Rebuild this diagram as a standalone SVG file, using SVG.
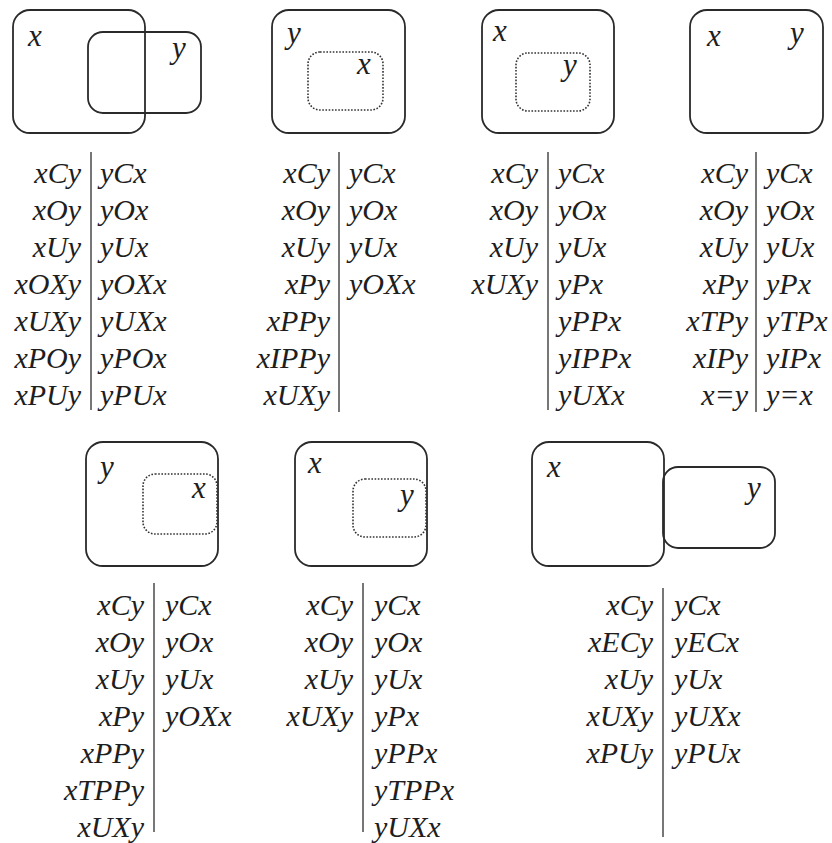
<svg xmlns="http://www.w3.org/2000/svg" width="832" height="843" viewBox="0 0 832 843">
<style>
.box{fill:none;stroke:#2a2a2a;stroke-width:1.8}
.dot{fill:none;stroke:#333;stroke-width:1.6;stroke-dasharray:1.6 1.6}
.lbl{font-family:"Liberation Serif","Times New Roman",serif;font-style:italic;font-size:31px;fill:#1e1e1e}
.t{font-family:"Liberation Serif","Times New Roman",serif;font-style:italic;font-size:30px;fill:#1e1e1e}
.l{text-anchor:end}
.div{stroke:#777;stroke-width:2}
</style>
<rect width="832" height="843" fill="#fff"/>
<g id="p1">
<rect class="box" x="13" y="10" width="132" height="123" rx="17"/>
<rect class="box" x="88" y="32" width="113" height="81" rx="15"/>
<text class="lbl" x="28" y="46">x</text>
<text class="lbl" x="172" y="58">y</text>
<line class="div" x1="91" y1="152" x2="91" y2="410"/>
<text class="t l"><tspan x="81" y="183">xCy</tspan><tspan x="81" y="220">xOy</tspan><tspan x="81" y="257">xUy</tspan><tspan x="81" y="294">xOXy</tspan><tspan x="81" y="331">xUXy</tspan><tspan x="81" y="368">xPOy</tspan><tspan x="81" y="405">xPUy</tspan></text>
<text class="t"><tspan x="100" y="183">yCx</tspan><tspan x="100" y="220">yOx</tspan><tspan x="100" y="257">yUx</tspan><tspan x="100" y="294">yOXx</tspan><tspan x="100" y="331">yUXx</tspan><tspan x="100" y="368">yPOx</tspan><tspan x="100" y="405">yPUx</tspan></text>
</g>
<g id="p2">
<rect class="box" x="272" y="10" width="133" height="123" rx="17"/>
<rect class="dot" x="308" y="52" width="75" height="58" rx="12"/>
<text class="lbl" x="287" y="43">y</text>
<text class="lbl" x="357" y="74">x</text>
<line class="div" x1="339" y1="152" x2="339" y2="412"/>
<text class="t l"><tspan x="330" y="183">xCy</tspan><tspan x="330" y="220">xOy</tspan><tspan x="330" y="257">xUy</tspan><tspan x="330" y="294">xPy</tspan><tspan x="330" y="331">xPPy</tspan><tspan x="330" y="368">xIPPy</tspan><tspan x="330" y="405">xUXy</tspan></text>
<text class="t"><tspan x="349" y="183">yCx</tspan><tspan x="349" y="220">yOx</tspan><tspan x="349" y="257">yUx</tspan><tspan x="349" y="294">yOXx</tspan></text>
</g>
<g id="p3">
<rect class="box" x="482" y="10" width="132" height="123" rx="17"/>
<rect class="dot" x="516" y="53" width="74" height="58" rx="12"/>
<text class="lbl" x="493" y="41">x</text>
<text class="lbl" x="563" y="75">y</text>
<line class="div" x1="548" y1="152" x2="548" y2="410"/>
<text class="t l"><tspan x="538" y="183">xCy</tspan><tspan x="538" y="220">xOy</tspan><tspan x="538" y="257">xUy</tspan><tspan x="538" y="294">xUXy</tspan></text>
<text class="t"><tspan x="558" y="183">yCx</tspan><tspan x="558" y="220">yOx</tspan><tspan x="558" y="257">yUx</tspan><tspan x="558" y="294">yPx</tspan><tspan x="558" y="331">yPPx</tspan><tspan x="558" y="368">yIPPx</tspan><tspan x="558" y="405">yUXx</tspan></text>
</g>
<g id="p4">
<rect class="box" x="690" y="10" width="133" height="123" rx="17"/>
<text class="lbl" x="707" y="46">x</text>
<text class="lbl" x="790" y="43">y</text>
<line class="div" x1="756" y1="152" x2="756" y2="412"/>
<text class="t l"><tspan x="748" y="183">xCy</tspan><tspan x="748" y="220">xOy</tspan><tspan x="748" y="257">xUy</tspan><tspan x="748" y="294">xPy</tspan><tspan x="748" y="331">xTPy</tspan><tspan x="748" y="368">xIPy</tspan><tspan x="748" y="405">x=y</tspan></text>
<text class="t"><tspan x="766" y="183">yCx</tspan><tspan x="766" y="220">yOx</tspan><tspan x="766" y="257">yUx</tspan><tspan x="766" y="294">yPx</tspan><tspan x="766" y="331">yTPx</tspan><tspan x="766" y="368">yIPx</tspan><tspan x="766" y="405">y=x</tspan></text>
</g>
<g id="p5">
<rect class="box" x="86" y="442" width="132" height="124" rx="17"/>
<rect class="dot" x="143" y="474" width="74" height="60" rx="12"/>
<text class="lbl" x="100" y="477">y</text>
<text class="lbl" x="192" y="498">x</text>
<line class="div" x1="154" y1="583" x2="154" y2="832"/>
<text class="t l"><tspan x="144" y="615">xCy</tspan><tspan x="144" y="652">xOy</tspan><tspan x="144" y="689">xUy</tspan><tspan x="144" y="726">xPy</tspan><tspan x="144" y="763">xPPy</tspan><tspan x="144" y="800">xTPPy</tspan><tspan x="144" y="837">xUXy</tspan></text>
<text class="t"><tspan x="165" y="615">yCx</tspan><tspan x="165" y="652">yOx</tspan><tspan x="165" y="689">yUx</tspan><tspan x="165" y="726">yOXx</tspan></text>
</g>
<g id="p6">
<rect class="box" x="295" y="442" width="132" height="124" rx="17"/>
<rect class="dot" x="353" y="479" width="73" height="58" rx="12"/>
<text class="lbl" x="308" y="473">x</text>
<text class="lbl" x="400" y="505">y</text>
<line class="div" x1="363" y1="583" x2="363" y2="832"/>
<text class="t l"><tspan x="353" y="615">xCy</tspan><tspan x="353" y="652">xOy</tspan><tspan x="353" y="689">xUy</tspan><tspan x="353" y="726">xUXy</tspan></text>
<text class="t"><tspan x="374" y="615">yCx</tspan><tspan x="374" y="652">yOx</tspan><tspan x="374" y="689">yUx</tspan><tspan x="374" y="726">yPx</tspan><tspan x="374" y="763">yPPx</tspan><tspan x="374" y="800">yTPPx</tspan><tspan x="374" y="837">yUXx</tspan></text>
</g>
<g id="p7">
<rect class="box" x="532" y="442" width="132" height="124" rx="17"/>
<rect class="box" x="663" y="467" width="112" height="81" rx="15"/>
<text class="lbl" x="547" y="477">x</text>
<text class="lbl" x="747" y="498">y</text>
<line class="div" x1="663" y1="588" x2="663" y2="837"/>
<text class="t l"><tspan x="653" y="615">xCy</tspan><tspan x="653" y="652">xECy</tspan><tspan x="653" y="689">xUy</tspan><tspan x="653" y="726">xUXy</tspan><tspan x="653" y="763">xPUy</tspan></text>
<text class="t"><tspan x="674" y="615">yCx</tspan><tspan x="674" y="652">yECx</tspan><tspan x="674" y="689">yUx</tspan><tspan x="674" y="726">yUXx</tspan><tspan x="674" y="763">yPUx</tspan></text>
</g>
</svg>
